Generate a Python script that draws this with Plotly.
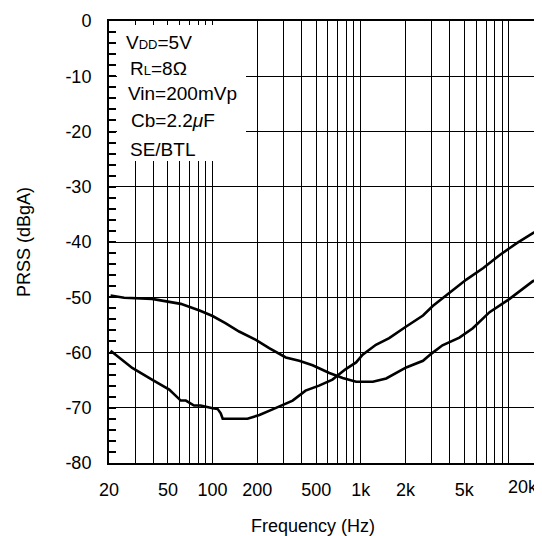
import plotly.graph_objects as go

# curve 1 (starts near -50 dB)
freq_a = [20.5, 25.3, 39, 48.2, 61, 81.7, 100, 122, 151, 196, 241, 312, 384, 473,
          614, 755, 930, 1206, 1485, 2026, 2630, 3000, 3560, 4630, 5700, 7400,
          10100, 14500, 17000, 19500]
prss_a = [-49.7, -50.1, -50.3, -50.7, -51.2, -52.4, -53.4, -54.7, -56.2, -57.7,
          -59.2, -60.9, -61.5, -62.3, -63.7, -64.6, -65.3, -65.3, -64.7, -62.7,
          -61.5, -60.2, -58.7, -57.3, -55.6, -52.7, -50.3, -47.1, -46.2, -44.8]

# curve 2 (starts near -60 dB)
freq_b = [20.5, 25.3, 28.7, 39, 51, 61, 66, 75, 83, 100, 108, 113.5, 117, 172,
          207, 254, 347, 424, 523, 644, 792, 930, 1030, 1265, 1555, 2026, 2630,
          3060, 3970, 5160, 6710, 8720, 11300, 14500, 19500]
prss_b = [-59.7, -61.7, -62.8, -64.9, -66.7, -68.7, -68.7, -69.6, -69.6, -70.1,
          -70.2, -71.0, -72.0, -72.0, -71.3, -70.3, -68.7, -66.9, -66.0, -64.9,
          -63.0, -61.8, -60.4, -58.6, -57.4, -55.3, -53.3, -51.6, -49.2, -46.8,
          -44.7, -42.3, -40.2, -38.4, -36.6]

# vertical grid positions and labels
grid_freqs = [20, 30, 40, 50, 60, 70, 80, 90, 100, 200, 300, 400, 500, 600, 700,
              800, 900, 1000, 2000, 3000, 4000, 5000, 6000, 7000, 8000, 9000, 10000]
label_map = {20: "20", 50: "50", 100: "100", 200: "200", 500: "500",
             1000: "1k", 2000: "2k", 5000: "5k"}
grid_text = [label_map.get(f, "") for f in grid_freqs]

y_vals = [0, -10, -20, -30, -40, -50, -60, -70, -80]
y_text = ["0", "-10", "-20", "-30", "-40", "-50", "-60", "-70", "-80"]

cond_lines = ["V<span style='font-size:13px'>DD</span>=5V",
              "R<span style='font-size:13px'>L</span>=8Ω",
              "Vin=200mVp",
              "Cb=2.2<i>μ</i>F",
              "SE/BTL"]

FONT = "Arial, Liberation Sans, sans-serif"
L, T, B, W, H = 101, 13, 81, 542, 536
PW, PH = W - L, H - T - B

def px_x(p):
    return (p - L) / PW

def px_y(p):
    return (H - B - p) / PH

fig = go.Figure()
fig.add_trace(go.Scatter(x=freq_a, y=prss_a, mode="lines",
                         line=dict(color="black", width=2.6), showlegend=False))
fig.add_trace(go.Scatter(x=freq_b, y=prss_b, mode="lines",
                         line=dict(color="black", width=2.6), showlegend=False))

# white box over the grid behind the condition text
fig.add_shape(type="rect", xref="paper", yref="paper",
              x0=px_x(109), x1=px_x(238), y0=px_y(153), y1=px_y(17),
              fillcolor="white", line=dict(width=0), layer="above")

text_pos = [(116, 34), (120, 61), (118, 86), (121, 113), (120, 142)]
for txt, (tx, ty) in zip(cond_lines, text_pos):
    fig.add_annotation(text=txt, xref="paper", yref="paper", x=px_x(tx), y=px_y(ty),
                       xanchor="left", yanchor="middle", showarrow=False,
                       font=dict(size=19, color="black", family=FONT))

fig.add_annotation(text="20k", xref="paper", yref="paper", x=px_x(532), y=px_y(479),
                   xanchor="right", yanchor="middle", showarrow=False,
                   font=dict(size=18, color="black", family=FONT))
fig.add_annotation(text="Frequency (Hz)", xref="paper", yref="paper",
                   x=px_x(305), y=px_y(518), xanchor="center", yanchor="middle",
                   showarrow=False, font=dict(size=18, color="black", family=FONT))
fig.add_annotation(text="PRSS (dBgA)", xref="paper", yref="paper",
                   x=px_x(16), y=0.5, xanchor="center", yanchor="middle",
                   textangle=-90, showarrow=False,
                   font=dict(size=18, color="black", family=FONT))

fig.update_xaxes(type="log", range=[1.301, 4.277],
                 tickvals=grid_freqs, ticktext=grid_text,
                 showgrid=True, gridcolor="black", gridwidth=1,
                 showline=True, linecolor="black", linewidth=2, mirror=True,
                 ticks="", ticklabelstandoff=9,
                 tickfont=dict(size=18, color="black", family=FONT))
fig.update_yaxes(range=[-80, 0], tickvals=y_vals, ticktext=y_text,
                 showgrid=True, gridcolor="black", gridwidth=1, zeroline=False,
                 showline=True, linecolor="black", linewidth=2, mirror=False,
                 ticks="inside", ticklen=7, tickwidth=2, tickcolor="black",
                 minor=dict(ticks="inside", dtick=2, ticklen=7, tickwidth=2,
                            tickcolor="black", showgrid=False),
                 ticklabelstandoff=12,
                 tickfont=dict(size=18, color="black", family=FONT))

fig.update_layout(width=W, height=H, margin=dict(l=L, r=0, t=T, b=B),
                  plot_bgcolor="white", paper_bgcolor="white",
                  font=dict(family=FONT, color="black"))

fig.write_html("out.html")
